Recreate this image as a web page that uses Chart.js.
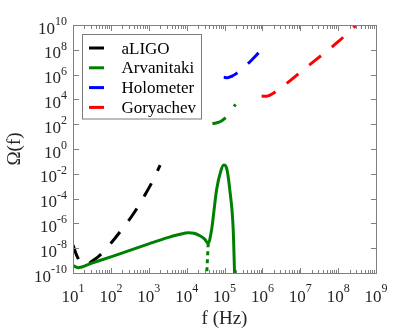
<!DOCTYPE html>
<html>
<head>
<meta charset="utf-8">
<script src="https://cdn.jsdelivr.net/npm/chart.js@4/dist/chart.umd.min.js"></script>
<style>
  html, body { margin: 0; padding: 0; background: #fff; }
  canvas { display: block; }
</style>
</head>
<body>
<canvas id="chart" width="415" height="332"></canvas>
<script>
// Valeurs, en exposants de 10 (log10 f, log10 Omega)
const aligoLogF = [1.0, 1.1, 1.2, 1.35, 1.5, 1.7, 2.0, 2.3, 2.6, 2.9, 3.1, 3.3];
const aligoLogOmega = [-7.75, -8.6, -9.15, -9.35, -9.05, -8.6, -7.6, -6.45, -5.2, -3.7, -2.6, -1.3];

const arvLogF = [1.0, 1.13, 1.5, 2.0, 2.5, 3.0, 3.5, 3.8, 4.05, 4.2, 4.35, 4.47, 4.57, 4.66, 4.79, 4.9, 4.98, 5.05, 5.14, 5.23, 5.27];
const arvLogOmega = [-9.4, -9.57, -9.2, -8.7, -8.17, -7.65, -7.15, -6.9, -6.75, -6.8, -7.0, -7.25, -7.6, -6.5, -3.3, -1.8, -1.3, -1.5, -3.3, -6.5, -10.5];

const arvDotLogF = [4.57, 4.53];
const arvDotLogOmega = [-7.6, -10.1];

const arvDashLogF = [4.68, 4.78, 4.9, 5.0, 5.15, 5.29];
const arvDashLogOmega = [2.05, 2.1, 2.22, 2.45, 2.95, 3.6];

const holoLogF = [4.98, 5.08, 5.2, 5.32, 5.5, 5.7, 5.9];
const holoLogOmega = [5.78, 5.75, 5.88, 6.1, 6.55, 7.12, 7.75];

const goryLogF = [5.98, 6.1, 6.2, 6.33, 6.5, 6.8, 7.2, 7.6, 8.0, 8.46];
const goryLogOmega = [4.27, 4.25, 4.35, 4.58, 4.95, 5.68, 6.68, 7.65, 8.65, 9.95];

// Graduations
const xTickExps = [1, 2, 3, 4, 5, 6, 7, 8, 9];
const yTickExps = [-10, -8, -6, -4, -2, 0, 2, 4, 6, 8, 10];

const legendLabels = ['aLIGO', 'Arvanitaki', 'Holometer', 'Goryachev'];

const FONT = "'Liberation Serif', 'Times New Roman', serif";

function toPoints(logF, logOmega) {
    return logF.map((lf, i) => ({ x: Math.pow(10, lf), y: Math.pow(10, logOmega[i]) }));
}

function lineSet(label, color, logF, logOmega, dash, extra) {
    return Object.assign({
        label: label,
        data: toPoints(logF, logOmega),
        borderColor: color,
        backgroundColor: color,
        borderWidth: 3,
        borderDash: dash,
        borderCapStyle: 'butt',
        borderJoinStyle: 'round',
        pointRadius: 0,
        pointHoverRadius: 0,
        fill: false,
        cubicInterpolationMode: 'monotone',
        order: 1
    }, extra || {});
}

const DASH = [15, 14];

const datasets = [
    lineSet('aLIGO', '#000000', aligoLogF, aligoLogOmega, DASH),
    lineSet('Arvanitaki', '#008000', arvLogF, arvLogOmega, [], { order: 0 }),
    lineSet('', '#008000', arvDotLogF, arvDotLogOmega, [4, 4], { tension: 0, cubicInterpolationMode: 'default', order: 0 }),
    lineSet('', '#008000', arvDashLogF, arvDashLogOmega, DASH),
    lineSet('Holometer', '#0000ff', holoLogF, holoLogOmega, DASH),
    lineSet('Goryachev', '#ff0000', goryLogF, goryLogOmega, DASH)
];

// Dessine 10^n avec l'exposant en haut
function powWidths(ctx, exp) {
    ctx.font = '17px ' + FONT;
    const wb = ctx.measureText('10').width;
    ctx.font = '12px ' + FONT;
    const we = ctx.measureText(String(exp)).width;
    return { wb, we };
}

const decorPlugin = {
    id: 'decor',
    afterDatasetsDraw(chart) {
        const { ctx, chartArea: a, scales } = chart;
        const xs = scales.x, ys = scales.y;
        ctx.save();

        // cadre
        ctx.strokeStyle = '#808080';
        ctx.lineWidth = 1;
        ctx.strokeRect(a.left + 0.5, a.top + 0.5, a.right - a.left, a.bottom - a.top);

        // graduations x (majeures + mineures), haut et bas
        ctx.beginPath();
        for (let e = 1; e <= 9; e++) {
            const px = Math.round(xs.getPixelForValue(Math.pow(10, e))) + 0.5;
            ctx.moveTo(px, a.bottom); ctx.lineTo(px, a.bottom - 5);
            ctx.moveTo(px, a.top + 1); ctx.lineTo(px, a.top + 6);
            if (e < 9) {
                for (let k = 2; k <= 9; k++) {
                    const mx = Math.round(xs.getPixelForValue(k * Math.pow(10, e))) + 0.5;
                    ctx.moveTo(mx, a.bottom); ctx.lineTo(mx, a.bottom - 3);
                    ctx.moveTo(mx, a.top + 1); ctx.lineTo(mx, a.top + 4);
                }
            }
        }
        // graduations y, gauche et droite
        yTickExps.forEach(e => {
            const py = Math.round(ys.getPixelForValue(Math.pow(10, e))) + 0.5;
            ctx.moveTo(a.left + 1, py); ctx.lineTo(a.left + 6, py);
            ctx.moveTo(a.right, py); ctx.lineTo(a.right - 5, py);
        });
        ctx.stroke();

        // étiquettes
        ctx.fillStyle = '#262626';
        ctx.textBaseline = 'alphabetic';
        ctx.textAlign = 'left';
        xTickExps.forEach(e => {
            const px = xs.getPixelForValue(Math.pow(10, e));
            const { wb, we } = powWidths(ctx, e);
            const x0 = px - (wb + we) / 2;
            ctx.font = '17px ' + FONT;
            ctx.fillText('10', x0, 302);
            ctx.font = '12px ' + FONT;
            ctx.fillText(String(e), x0 + wb, 292);
        });
        yTickExps.forEach(e => {
            const py = ys.getPixelForValue(Math.pow(10, e));
            const { wb, we } = powWidths(ctx, e);
            const right = a.left - 6;
            ctx.font = '17px ' + FONT;
            ctx.fillText('10', right - we - wb, py + 8.5);
            ctx.font = '12px ' + FONT;
            ctx.fillText(String(e), right - we, py);
        });

        // titres des axes
        ctx.font = '19px ' + FONT;
        ctx.textAlign = 'center';
        ctx.fillText('f (Hz)', (a.left + a.right) / 2, 324);
        ctx.save();
        ctx.translate(20, (a.top + a.bottom) / 2);
        ctx.rotate(-Math.PI / 2);
        ctx.fillText('\u03A9(f)', 0, 0);
        ctx.restore();

        // légende
        const colors = ['#000000', '#008000', '#0000ff', '#ff0000'];
        ctx.fillStyle = '#ffffff';
        ctx.fillRect(83, 35, 118, 84);
        ctx.strokeStyle = '#7a7a7a';
        ctx.strokeRect(82.5, 34.5, 119, 84.5);
        ctx.font = '17px ' + FONT;
        ctx.textAlign = 'left';
        legendLabels.forEach((lab, i) => {
            const base = 53.5 + i * 19.8;
            ctx.strokeStyle = colors[i];
            ctx.lineWidth = 3;
            ctx.beginPath();
            ctx.moveTo(89, base - 5.5);
            ctx.lineTo(104, base - 5.5);
            ctx.stroke();
            ctx.fillStyle = '#000000';
            ctx.fillText(lab, 121.5, base);
        });
        ctx.restore();
    }
};

new Chart(document.getElementById('chart'), {
    type: 'line',
    data: { datasets: datasets },
    options: {
        responsive: false,
        devicePixelRatio: 1,
        animation: false,
        events: [],
        layout: { padding: { left: 73, top: 25, right: 39, bottom: 59 } },
        plugins: {
            legend: { display: false },
            tooltip: { enabled: false }
        },
        scales: {
            x: { type: 'logarithmic', min: 10, max: 1e9, display: false },
            y: { type: 'logarithmic', min: 1e-10, max: 1e10, display: false }
        }
    },
    plugins: [decorPlugin]
});
</script>
</body>
</html>
